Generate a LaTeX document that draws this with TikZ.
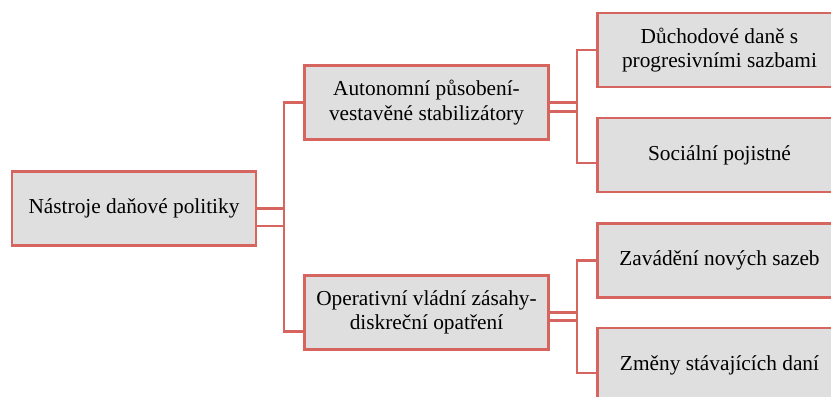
\documentclass[tikz,border=0pt]{standalone}
\usepackage{fontspec}
\setmainfont{Liberation Serif}
\usepackage{xcolor}
\usepackage{tikz}

\definecolor{linkred}{RGB}{214,100,95}
\definecolor{boxgray}{RGB}{223,223,223}

\begin{document}
\begin{tikzpicture}[x=0.75pt,y=-0.75pt,
  box/.style={draw=linkred, fill=boxgray, line width=2.2pt, rectangle,
    minimum width=183pt, minimum height=55.5pt, inner sep=0pt, align=center,
    font=\fontsize{16}{18.5}\selectfont},
  conn/.style={draw=linkred, line width=2.2pt}]

% Fix the frame of the picture
\useasboundingbox (0,0) rectangle (831,396);
\clip (0,0) rectangle (831,396);

% Draw the boxes
\node[box] (root) at (134,208.5) {Nástroje daňové politiky};
\node[box] (auto) at (426.5,102.5) {Autonomní působení-\\vestavěné stabilizátory};
\node[box] (oper) at (426.5,312.5) {Operativní vládní zásahy-\\diskreční opatření};
\node[box] (dan) at (719.5,50) {Důchodové daně s\\progresivními sazbami};
\node[box] (soc) at (719.5,155) {Sociální pojistné};
\node[box] (zav) at (719.5,260.5) {Zavádění nových sazeb};
\node[box] (zme) at (719.5,365) {Změny stávajících daní};

% Define coordinates for the vertical buses
\coordinate (busA) at (284,0);
\coordinate (busB) at (577,0);

% Draw the connectors
\draw[conn] (root.east) -- (root.east -| busA) |- ([yshift=-13.9pt]oper.west);
\draw[conn] ([yshift=-13.1pt]root.east) -- ([yshift=-13.1pt]root.east -| busA) |- (auto.west);
\draw[conn] (auto.east) -- (auto.east -| busB) |- ([yshift=-6pt]soc.west);
\draw[conn] ([yshift=-6.4pt]auto.east) -- ([yshift=-6.4pt]auto.east -| busB) |- (dan.west);
\draw[conn] (oper.east) -- (oper.east -| busB) |- ([yshift=-6pt]zme.west);
\draw[conn] ([yshift=-6.2pt]oper.east) -- ([yshift=-6.2pt]oper.east -| busB) |- (zav.west);
\end{tikzpicture}
\end{document}
